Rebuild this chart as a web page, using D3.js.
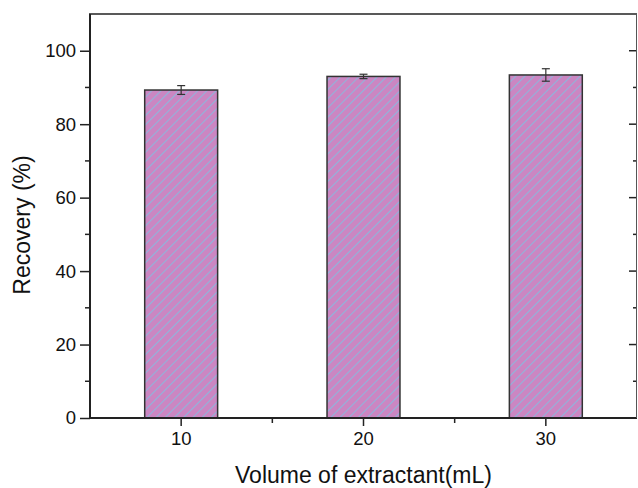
<!DOCTYPE html>
<html>
<head>
<meta charset="utf-8">
<script src="https://cdn.jsdelivr.net/npm/d3@7"></script>
<style>
  body { margin: 0; background: #fff; }
  svg { display: block; font-family: "Liberation Sans", Arial, sans-serif; }
</style>
</head>
<body>
<div id="chart"></div>
<script>
// ─── DATA ───────────────────────────────────────────────────────────────────
const volumes = ['10', '20', '30'];
const recovery = [89.3, 93.0, 93.4];
const errors = [1.2, 0.6, 1.7];
const yTicks = [0, 20, 40, 60, 80, 100];

// ─── CANVAS ─────────────────────────────────────────────────────────────────
const W = 638, H = 488;
const margin = {top: 14, right: 1, bottom: 70, left: 90};
const width = W - margin.left - margin.right;
const height = H - margin.top - margin.bottom;

const svg = d3.select('#chart').append('svg')
  .attr('width', W).attr('height', H);

// hatch pattern
const defs = svg.append('defs');
const pat = defs.append('pattern')
  .attr('id', 'hatch')
  .attr('patternUnits', 'userSpaceOnUse')
  .attr('width', 6.5).attr('height', 6.5)
  .attr('patternTransform', 'rotate(45)');
pat.append('rect').attr('width', 6.5).attr('height', 6.5).attr('fill', '#cb86c2');
pat.append('line')
  .attr('x1', 0).attr('y1', 0).attr('x2', 0).attr('y2', 6.5)
  .attr('stroke', '#8db6dc').attr('stroke-width', 2);

const g = svg.append('g').attr('transform', `translate(${margin.left},${margin.top})`);

// ─── SCALES ─────────────────────────────────────────────────────────────────
const x = d3.scaleBand().domain(volumes).range([0, width]).padding(0);
const y = d3.scaleLinear().domain([0, 110]).range([height, 0]);
const barW = x.bandwidth() * 0.4;

// ─── BARS ───────────────────────────────────────────────────────────────────
g.selectAll('rect.bar')
  .data(volumes)
  .enter().append('rect')
  .attr('class', 'bar')
  .attr('x', d => x(d) + x.bandwidth() / 2 - barW / 2)
  .attr('y', (d, i) => y(recovery[i]))
  .attr('width', barW)
  .attr('height', (d, i) => y(0) - y(recovery[i]))
  .attr('fill', 'url(#hatch)')
  .attr('stroke', '#333')
  .attr('stroke-width', 1.5);

// error bars
const eb = g.selectAll('g.err').data(volumes).enter().append('g')
  .attr('transform', d => `translate(${x(d) + x.bandwidth() / 2},0)`)
  .attr('stroke', '#333').attr('stroke-width', 1.2);
eb.append('line')
  .attr('y1', (d, i) => y(recovery[i] + errors[i]))
  .attr('y2', (d, i) => y(recovery[i] - errors[i]));
eb.append('line').attr('x1', -4).attr('x2', 4)
  .attr('y1', (d, i) => y(recovery[i] + errors[i]))
  .attr('y2', (d, i) => y(recovery[i] + errors[i]));
eb.append('line').attr('x1', -4).attr('x2', 4)
  .attr('y1', (d, i) => y(recovery[i] - errors[i]))
  .attr('y2', (d, i) => y(recovery[i] - errors[i]));

// ─── AXES ───────────────────────────────────────────────────────────────────
// left
const yAxis = g.append('g')
  .call(d3.axisLeft(y).tickValues(yTicks).tickSize(10).tickPadding(4).tickSizeOuter(0));
yAxis.select('.domain').remove();
yAxis.selectAll('.tick line').attr('stroke', '#222').attr('stroke-width', 1.5);
yAxis.selectAll('text').style('font-size', '18.5px').attr('fill', '#111');
// left minor
g.append('g').selectAll('line')
  .data(d3.range(10, 110, 20))
  .enter().append('line')
  .attr('x1', -5).attr('x2', 0)
  .attr('y1', d => y(d)).attr('y2', d => y(d))
  .attr('stroke', '#222').attr('stroke-width', 1.5);

// right ticks, inward
g.append('g').selectAll('line')
  .data(d3.range(0, 110, 10))
  .enter().append('line')
  .attr('x1', d => d % 20 === 0 ? width - 8 : width - 4).attr('x2', width)
  .attr('y1', d => y(d)).attr('y2', d => y(d))
  .attr('stroke', '#222').attr('stroke-width', 1.5);

// bottom
const xAxis = g.append('g')
  .attr('transform', `translate(0,${height})`)
  .call(d3.axisBottom(x).tickSize(8).tickPadding(6).tickSizeOuter(0));
xAxis.select('.domain').remove();
xAxis.selectAll('.tick line').attr('stroke', '#222').attr('stroke-width', 1.5);
xAxis.selectAll('text').style('font-size', '18.5px').attr('fill', '#111');
// bottom minor, between categories
g.append('g').selectAll('line')
  .data(volumes.slice(1))
  .enter().append('line')
  .attr('x1', d => x(d)).attr('x2', d => x(d))
  .attr('y1', height).attr('y2', height + 5)
  .attr('stroke', '#222').attr('stroke-width', 1.5);

// frame
g.append('line').attr('x1', 0).attr('x2', 0).attr('y1', 0).attr('y2', height + 1)
  .attr('stroke', '#222').attr('stroke-width', 2);
g.append('line').attr('x1', -1).attr('x2', width).attr('y1', height).attr('y2', height)
  .attr('stroke', '#222').attr('stroke-width', 2);
g.append('line').attr('x1', -1).attr('x2', width).attr('y1', 0).attr('y2', 0)
  .attr('stroke', '#222').attr('stroke-width', 1.5);
g.append('line').attr('x1', width - 0.5).attr('x2', width - 0.5).attr('y1', 0).attr('y2', height)
  .attr('stroke', '#555').attr('stroke-width', 1);

// ─── LABELS ─────────────────────────────────────────────────────────────────
svg.append('text')
  .attr('x', margin.left + width / 2)
  .attr('y', 483)
  .attr('text-anchor', 'middle')
  .style('font-size', '23px')
  .attr('fill', '#111')
  .text('Volume of extractant(mL)');

svg.append('text')
  .attr('transform', `translate(30,225) rotate(-90)`)
  .attr('text-anchor', 'middle')
  .style('font-size', '23px')
  .attr('fill', '#111')
  .text('Recovery (%)');
</script>
</body>
</html>
